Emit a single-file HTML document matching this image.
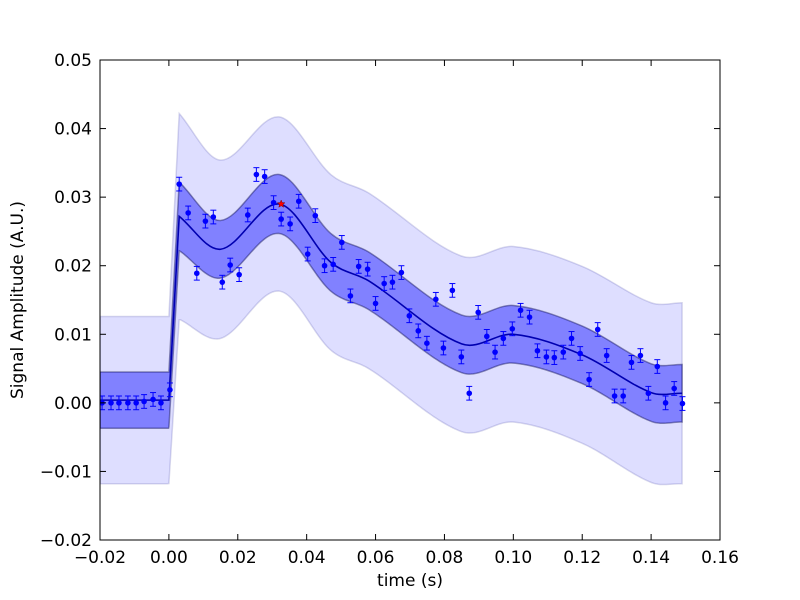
<!DOCTYPE html>
<html><head><meta charset="utf-8"><style>
body{margin:0;background:#fff}
svg{display:block;font-family:"DejaVu Sans","Liberation Sans",sans-serif}
</style></head><body>
<svg id="c" width="800" height="600"></svg>
<script>
const dataT=[-0.0194,-0.0168,-0.0145,-0.0119,-0.0095,-0.0072,-0.0046,-0.0023,0.0003,0.0030,0.0056,0.0081,0.0106,0.0129,0.0155,0.0178,0.0204,0.0229,0.0254,0.0278,0.0304,0.0326,0.0352,0.0377,0.0403,0.0425,0.0452,0.0477,0.0502,0.0527,0.0551,0.0577,0.0600,0.0625,0.0649,0.0675,0.0698,0.0724,0.0749,0.0775,0.0797,0.0823,0.0849,0.0872,0.0898,0.0923,0.0947,0.0971,0.0997,0.1021,0.1047,0.1070,0.1096,0.1119,0.1145,0.1169,0.1194,0.1220,0.1245,0.1271,0.1294,0.1319,0.1343,0.1369,0.1392,0.1418,0.1442,0.1467,0.1491];
const dataV=[0,0,0,0,0,0.0002,0.0005,0.0000,0.0019,0.0319,0.0277,0.0189,0.0265,0.0271,0.0176,0.0201,0.0187,0.0274,0.0333,0.0330,0.0292,0.0268,0.0261,0.0294,0.0217,0.0273,0.0200,0.0202,0.0234,0.0156,0.0199,0.0195,0.0145,0.0174,0.0176,0.0190,0.0127,0.0105,0.0087,0.0151,0.0080,0.0164,0.0067,0.0014,0.0132,0.0097,0.0074,0.0094,0.0108,0.0135,0.0125,0.0076,0.0067,0.0066,0.0074,0.0094,0.0072,0.0034,0.0107,0.0069,0.0010,0.0010,0.0059,0.0069,0.0014,0.0053,0.0000,0.0021,-0.0001];
const errV=0.001;
const fitT=[-0.02,0.0,0.003,0.015,0.032,0.047,0.058,0.085,0.100,0.120,0.140,0.149];
const fitV=[0.0004,0.0004,0.0272,0.0224,0.0290,0.0205,0.0178,0.0086,0.0100,0.0070,0.0015,0.0014];
const innerW=[0.0041,0.0041,0.0050,0.0042,0.0043,0.0042,0.0042,0.0042,0.0042,0.0042,0.0042,0.0042];
const outerW=[0.0122,0.0122,0.0150,0.0130,0.0127,0.0128,0.0128,0.0128,0.0128,0.0129,0.0131,0.0132];
const starT=0.0326, starV=0.0290;
const xTicks=[-0.02,0.00,0.02,0.04,0.06,0.08,0.10,0.12,0.14,0.16];
const yTicks=[-0.02,-0.01,0.00,0.01,0.02,0.03,0.04,0.05];

const L=100,R=720,T=60,B=540,X0=-0.02,X1=0.16,Y0=-0.02,Y1=0.05;
const sx=t=>L+(t-X0)/(X1-X0)*(R-L);
const sy=v=>B-(v-Y0)/(Y1-Y0)*(B-T);
const svg=document.getElementById('c');
const NS='http://www.w3.org/2000/svg';
function mk(tag,attrs,parent){const e=document.createElementNS(NS,tag);for(const k in attrs)e.setAttribute(k,attrs[k]);(parent||svg).appendChild(e);return e;}

function curve(pts){
  let d='M'+pts[0][0]+','+pts[0][1]+' L'+pts[1][0]+','+pts[1][1]+' L'+pts[2][0]+','+pts[2][1];
  for(let i=2;i<pts.length-1;i++){
    const p0=pts[Math.max(2,i-1)],p1=pts[i],p2=pts[i+1],p3=pts[Math.min(pts.length-1,i+2)];
    const h=p2[0]-p1[0];
    const m1=(p2[1]-p0[1])/(p2[0]-p0[0]||1), m2=(p3[1]-p1[1])/(p3[0]-p1[0]||1);
    const c1=[p1[0]+h/3,p1[1]+m1*h/3];
    const c2=[p2[0]-h/3,p2[1]-m2*h/3];
    d+=' C'+c1[0]+','+c1[1]+' '+c2[0]+','+c2[1]+' '+p2[0]+','+p2[1];
  }
  return d;
}
function bandPath(w){
  const up=fitT.map((t,i)=>[sx(t),sy(fitV[i]+w[i])]);
  const lo=fitT.map((t,i)=>[sx(t),sy(fitV[i]-w[i])]);
  const upD=curve(up),loD=curve(lo);
  const tmp=mk('path',{d:loD},svg);const len=tmp.getTotalLength();let back='';
  for(let s=len;s>=0;s-=2){const p=tmp.getPointAtLength(s);back+=' L'+p.x.toFixed(2)+','+p.y.toFixed(2);}
  const p0=tmp.getPointAtLength(0);back+=' L'+p0.x+','+p0.y;
  svg.removeChild(tmp);
  return upD+back+' Z';
}
const clip=mk('clipPath',{id:'pc'});mk('rect',{x:L,y:T,width:R-L,height:B-T},clip);
const g=mk('g',{'clip-path':'url(#pc)'});
const outer=mk('path',{d:bandPath(outerW),fill:'#0000ff','fill-opacity':0.13,stroke:'#000080','stroke-opacity':0.15,'stroke-width':1.5},g);


const inner=mk('path',{d:bandPath(innerW),fill:'#0000ff','fill-opacity':0.42,stroke:'#000040','stroke-opacity':0.4,'stroke-width':1.5},g);


const fl=mk('path',{d:curve(fitT.map((t,i)=>[sx(t),sy(fitV[i])])),fill:'none',stroke:'#0000b0','stroke-width':1.6},g);


dataT.forEach((t,i)=>{
  const x=sx(t),y=sy(dataV[i]),y1=sy(dataV[i]+errV),y2=sy(dataV[i]-errV);
  const pg=mk('g',{},g);
  
  
  mk('line',{x1:x,x2:x,y1:y1,y2:y2,stroke:'#0000ff','stroke-width':1},pg);
  mk('line',{x1:x-3,x2:x+3,y1:y1,y2:y1,stroke:'#0000ff','stroke-width':1},pg);
  mk('line',{x1:x-3,x2:x+3,y1:y2,y2:y2,stroke:'#0000ff','stroke-width':1},pg);
  mk('circle',{cx:x,cy:y,r:2.8,fill:'#0000ff'},pg);
});
(function(){const cx=sx(starT),cy=sy(starV);let d='';for(let k=0;k<10;k++){const r=k%2?1.7:4;const a=-Math.PI/2+k*Math.PI/5;d+=(k?'L':'M')+(cx+r*Math.cos(a)).toFixed(2)+','+(cy+r*Math.sin(a)).toFixed(2);}
const s=mk('path',{d:d+'Z',fill:'#ff0000',stroke:'#800000','stroke-width':0.5});

})();
const fr=mk('rect',{x:L,y:T,width:R-L,height:B-T,fill:'none',stroke:'#000','stroke-width':1});


xTicks.forEach(v=>{const x=sx(v);
  mk('line',{x1:x,x2:x,y1:B,y2:B-6,stroke:'#000'});mk('line',{x1:x,x2:x,y1:T,y2:T+6,stroke:'#000'});
  const tx=mk('text',{x:x,y:B+23,'font-size':17,'text-anchor':'middle'});tx.textContent=(v<0?'\u2212':'')+Math.abs(v).toFixed(2);
  
  });
yTicks.forEach(v=>{const y=sy(v);
  mk('line',{x1:L,x2:L+6,y1:y,y2:y,stroke:'#000'});mk('line',{x1:R,x2:R-6,y1:y,y2:y,stroke:'#000'});
  const tx=mk('text',{x:L-8,y:y+6,'font-size':17,'text-anchor':'end'});tx.textContent=(v<0?'\u2212':'')+Math.abs(v).toFixed(2);
  
  });
const xt=mk('text',{x:410,y:586,'font-size':17,'text-anchor':'middle'});xt.textContent='time (s)';


const yt=mk('text',{x:0,y:0,'font-size':17,'text-anchor':'middle',transform:'translate(23,300) rotate(-90)'});yt.textContent='Signal Amplitude (A.U.)';


</script>
</body></html>
